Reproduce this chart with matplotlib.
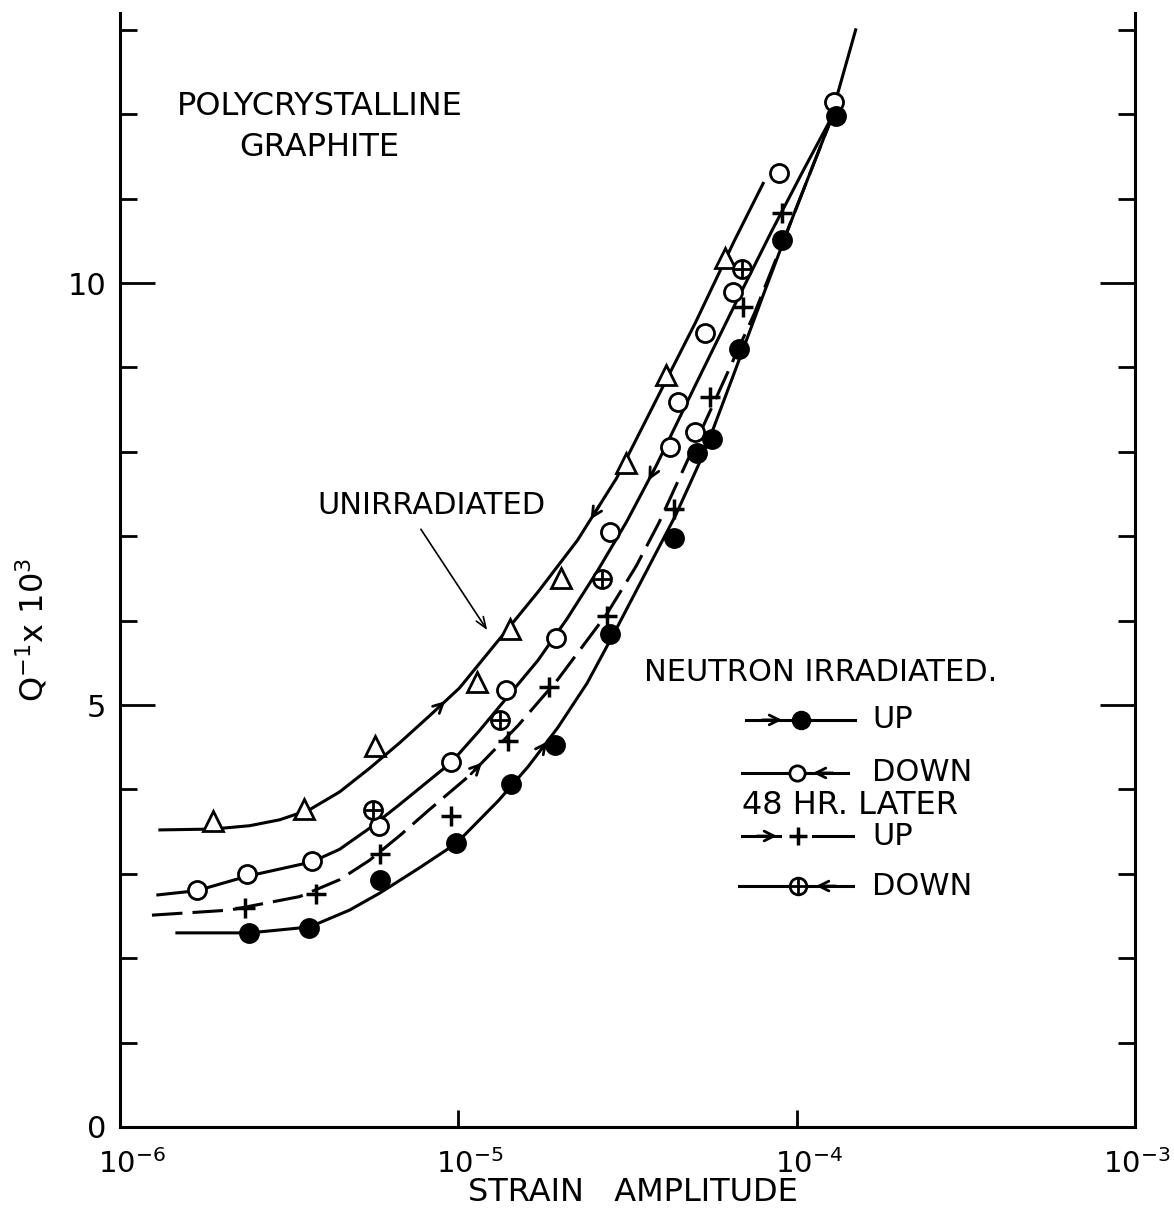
import numpy as np
import matplotlib
matplotlib.use('Agg')
import matplotlib.pyplot as plt
import matplotlib.transforms as mtransforms
from matplotlib.ticker import NullLocator, FixedLocator

# strain amplitudes are given in units of 1e-6, Q^-1 in units of 1e-3
# --- measured points ---
tri_x = [1.88, 3.49, 5.69, 11.36, 14.26, 20.06, 31.4, 41.1, 61.4]
tri_y = [3.63, 3.77, 4.51, 5.27, 5.90, 6.50, 7.87, 8.91, 10.30]

down_x = [1.69, 2.37, 3.69, 5.81, 9.53, 13.8, 19.4, 28.0, 42.2, 49.9, 44.5, 53.7, 64.7, 88.7, 129.0]
down_y = [2.81, 3.00, 3.15, 3.57, 4.32, 5.18, 5.79, 7.05, 8.06, 8.23, 8.59, 9.41, 9.89, 11.30, 12.14]

up_x = [2.40, 3.61, 5.85, 9.86, 14.35, 19.27, 28.0, 43.3, 50.9, 56.2, 67.4, 90.4, 130.7]
up_y = [2.30, 2.36, 2.93, 3.36, 4.06, 4.53, 5.84, 6.98, 7.99, 8.15, 9.22, 10.51, 11.98]

up48_x = [2.34, 3.79, 5.85, 9.53, 13.98, 18.5, 27.5, 43.3, 55.5, 69.2, 90.4]
up48_y = [2.59, 2.76, 3.23, 3.68, 4.57, 5.21, 6.05, 7.32, 8.65, 9.72, 10.83]

down48_x = [5.61, 13.3, 26.6, 68.8]
down48_y = [3.76, 4.82, 6.49, 10.17]

# --- hand drawn curves ---
cu_x = [1.312, 1.881, 2.418, 2.965, 3.635, 4.457, 5.465, 6.70, 8.21, 10.07, 13.16, 17.20,
        22.48, 29.38, 38.39, 50.20, 65.6, 79.6]
cu_y = [3.52, 3.53, 3.57, 3.64, 3.76, 3.97, 4.25, 4.55, 4.87, 5.20, 5.77, 6.34,
        6.95, 7.69, 8.61, 9.53, 10.51, 11.18]

cd_x = [1.294, 1.687, 2.370, 3.685, 4.457, 5.465, 6.70, 9.53, 11.51, 14.07, 17.20, 21.02,
        25.70, 31.42, 38.39, 50.20, 65.6, 84.0, 104.8, 125.6, 149.4]
cd_y = [2.75, 2.80, 2.97, 3.14, 3.29, 3.54, 3.82, 4.32, 4.69, 5.11, 5.53, 6.03,
        6.58, 7.17, 7.83, 8.79, 9.74, 10.60, 11.34, 11.93, 13.0]

cp_x = [1.243, 2.111, 3.396, 4.457, 5.465, 6.70, 8.21, 10.76, 15.04, 19.66, 27.48, 33.59,
        39.17, 57.38, 75.0, 98.0, 125.6]
cp_y = [2.51, 2.57, 2.73, 2.93, 3.16, 3.45, 3.76, 4.16, 4.76, 5.30, 6.08, 6.65,
        7.16, 8.61, 9.64, 10.81, 11.91]

cf_x = [1.473, 2.418, 3.635, 4.77, 5.85, 7.67, 9.86, 13.16, 16.08, 19.66, 24.03, 29.38,
        35.92, 43.9, 53.66, 65.6, 80.2, 98.0, 125.6]
cf_y = [2.30, 2.30, 2.37, 2.57, 2.77, 3.07, 3.36, 3.87, 4.27, 4.73, 5.26, 5.91,
        6.58, 7.25, 8.02, 8.95, 9.89, 10.81, 11.91]

xticks = [1e-6, 1e-5, 1e-4, 1e-3]
xticklabels = [r'$10^{-6}$', r'$10^{-5}$', r'$10^{-4}$', r'$10^{-3}$']
yticks = [0, 5, 10]

plt.rcParams['font.family'] = ['DejaVu Sans']
plt.rcParams['mathtext.fontset'] = 'dejavusans'

fig = plt.figure(figsize=(11.74, 12.10), dpi=100)
ax = fig.add_axes([0.1022, 0.0686, 0.8646, 0.9207])
ax.set_xscale('log')
ax.set_xlim(1e-6, 1e-3)
ax.set_ylim(0, 13.2)
ax.spines['top'].set_visible(False)
for s in ['left', 'right', 'bottom']:
    ax.spines[s].set_linewidth(2.2)

ax.xaxis.set_major_locator(FixedLocator(xticks))
ax.xaxis.set_minor_locator(NullLocator())
ax.set_xticklabels(xticklabels)
ax.tick_params(axis='x', direction='in', length=12, width=2, pad=16, labelsize=21)
labs = ax.get_xticklabels()
shift = mtransforms.ScaledTranslation(0.12, 0, fig.dpi_scale_trans)
for lab in labs[:-1]:
    lab.set_transform(lab.get_transform() + shift)
# last label sits against the right edge, as in the original
labs[-1].set_horizontalalignment('right')
labs[-1].set_transform(labs[-1].get_transform()
                       + mtransforms.ScaledTranslation(0.36, 0, fig.dpi_scale_trans))

ax.set_yticks(yticks)
ax.yaxis.set_minor_locator(FixedLocator(range(1, 14)))
ax.tick_params(axis='y', which='major', direction='in', length=25, width=2,
               left=True, right=True, labelsize=22, pad=10)
ax.tick_params(axis='y', which='minor', direction='in', length=12, width=2,
               left=True, right=True)

ax.set_ylabel(r'$\mathregular{Q^{-1}x\ 10^{3}}$', fontsize=23)
ax.yaxis.set_label_coords(-0.068, 0.446)
ax.text(0.505, -0.059, 'STRAIN   AMPLITUDE', transform=ax.transAxes,
        ha='center', va='center', fontsize=23)

s = 1e-6
lw = 2.2
ax.plot(np.array(cu_x) * s, cu_y, color='black', lw=lw, zorder=2)
ax.plot(np.array(cd_x) * s, cd_y, color='black', lw=lw, zorder=2)
ax.plot(np.array(cp_x) * s, cp_y, color='black', lw=lw, ls=(0, (10, 3.3)), zorder=2)
ax.plot(np.array(cf_x) * s, cf_y, color='black', lw=lw, zorder=2)


def curve_arrow(xs, ys, i, frac, back=False):
    lx = np.log10(np.array(xs) * s)
    yy = np.array(ys)
    x0 = lx[i] + frac * (lx[i + 1] - lx[i])
    y0 = yy[i] + frac * (yy[i + 1] - yy[i])
    dx = (lx[i + 1] - lx[i]) * 0.3
    dy = (yy[i + 1] - yy[i]) * 0.3
    if back:
        dx, dy = -dx, -dy
    ax.annotate('', xy=(10 ** x0, y0), xytext=(10 ** (x0 - dx), y0 - dy),
                arrowprops=dict(arrowstyle='->,head_length=0.7,head_width=0.35',
                                lw=2, color='black'), zorder=3)


curve_arrow(cu_x, cu_y, 8, 0.6)
curve_arrow(cu_x, cu_y, 12, 0.3, back=True)
curve_arrow(cd_x, cd_y, 13, 0.7, back=True)
curve_arrow(cf_x, cf_y, 8, 0.7)
curve_arrow(cp_x, cp_y, 7, 0.3)

mk = dict(ls='none', mec='black', zorder=4)
ax.plot(np.array(tri_x) * s, tri_y, marker='^', ms=15, mfc='white', mew=2, **mk)
ax.plot(np.array(down_x) * s, down_y, marker='o', ms=13, mfc='white', mew=2, **mk)
ax.plot(np.array(up_x) * s, up_y, marker='o', ms=13, mfc='black', mew=2, **mk)
ax.plot(np.array(up48_x) * s, up48_y, marker='+', ms=15, mew=2.5, **mk)
ax.plot(np.array(down48_x) * s, down48_y, marker='o', ms=13, mfc='white', mew=2, **mk)
ax.plot(np.array(down48_x) * s, down48_y, marker='+', ms=13, mew=2, **mk)

# labels
fs = 22
ax.text(0.197, 0.916, 'POLYCRYSTALLINE', transform=ax.transAxes, ha='center', va='center', fontsize=fs + 1)
ax.text(0.196, 0.879, 'GRAPHITE', transform=ax.transAxes, ha='center', va='center', fontsize=fs + 1)
ax.text(0.307, 0.558, 'UNIRRADIATED', transform=ax.transAxes, ha='center', va='center', fontsize=fs)
ax.annotate('', xy=(12.3e-6, 5.86), xytext=(7.67e-6, 7.11),
            arrowprops=dict(arrowstyle='->,head_length=0.8,head_width=0.3', lw=1.2, color='black'))
ax.text(0.516, 0.408, 'NEUTRON IRRADIATED.', transform=ax.transAxes, ha='left', va='center', fontsize=fs)
ax.text(0.613, 0.289, '48 HR. LATER', transform=ax.transAxes, ha='left', va='center', fontsize=fs + 1)

# key
tr = ax.transAxes
rows = [0.3654, 0.3178, 0.2612, 0.2163]
names = ['UP', 'DOWN', 'UP', 'DOWN']
for fy, name in zip(rows, names):
    ax.text(0.741, fy, name, transform=tr, ha='left', va='center', fontsize=fs)


def key_arrow(x0, x1, fy):
    ax.annotate('', xy=(x1, fy), xytext=(x0, fy), xycoords='axes fraction',
                arrowprops=dict(arrowstyle='->,head_length=0.7,head_width=0.35', lw=2, color='black'))


ax.plot([0.617, 0.724], [rows[0]] * 2, color='black', lw=lw, transform=tr, clip_on=False)
key_arrow(0.630, 0.655, rows[0])
ax.plot([0.671], [rows[0]], marker='o', ms=13, mfc='black', transform=tr, **mk)

ax.plot([0.613, 0.717], [rows[1]] * 2, color='black', lw=lw, transform=tr, clip_on=False)
key_arrow(0.705, 0.680, rows[1])
ax.plot([0.667], [rows[1]], marker='o', ms=11, mfc='white', mew=2, transform=tr, **mk)

ax.plot([0.613, 0.650], [rows[2]] * 2, color='black', lw=lw, transform=tr, clip_on=False)
ax.plot([0.683, 0.722], [rows[2]] * 2, color='black', lw=lw, transform=tr, clip_on=False)
key_arrow(0.625, 0.650, rows[2])
ax.plot([0.668], [rows[2]], marker='+', ms=13, mew=2.5, transform=tr, **mk)

ax.plot([0.610, 0.722], [rows[3]] * 2, color='black', lw=lw, transform=tr, clip_on=False)
key_arrow(0.708, 0.683, rows[3])
ax.plot([0.668], [rows[3]], marker='o', ms=12, mfc='white', mew=2, transform=tr, **mk)
ax.plot([0.668], [rows[3]], marker='+', ms=12, mew=2, transform=tr, **mk)

fig.savefig('out.png', dpi=100)
